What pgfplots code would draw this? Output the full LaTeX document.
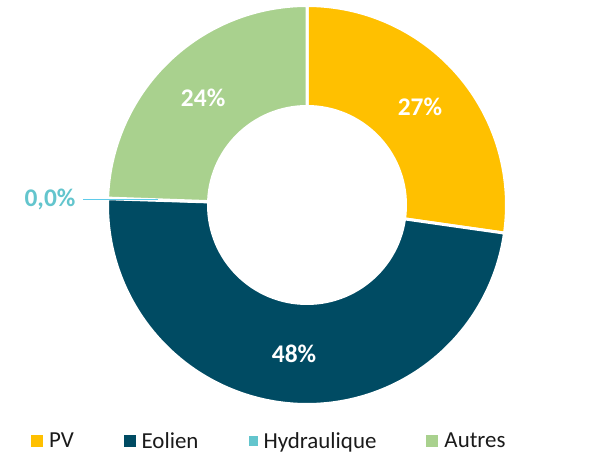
\documentclass[border=0pt]{standalone}
\usepackage{pgfplots}
\pgfplotsset{compat=1.18}
\usepackage{fontspec}
\setmainfont{Carlito}
\definecolor{pv}{HTML}{FFC000}
\definecolor{eol}{HTML}{004B63}
\definecolor{hyd}{HTML}{63C5CD}
\definecolor{aut}{HTML}{A9D18E}
\definecolor{lead}{HTML}{5FCBEA}
\definecolor{legtext}{HTML}{1A1A1A}
% values (percent)
\def\vPV{27.25}
\def\vEol{48.25}
\def\vHyd{0.05}
\def\vAut{24.45}
\pgfmathsetmacro\aA{90}
\pgfmathsetmacro\aB{90-3.6*\vPV}
\pgfmathsetmacro\aC{\aB-3.6*\vEol}
\pgfmathsetmacro\aD{\aC-3.6*\vHyd}
\pgfmathsetmacro\aE{\aD-3.6*\vAut}
\def\cx{307}
\def\cy{250}
\def\R{199.5}
\def\r{100}
\begin{document}
\begin{tikzpicture}
\begin{axis}[
  at={(0,0)}, anchor=south west,
  scale only axis, width=610bp, height=455bp,
  xmin=0, xmax=610, ymin=0, ymax=455,
  axis lines=none, clip=false,
  legend columns=4,
  legend style={draw=none, fill=none, inner sep=0pt, outer sep=0pt,
    at={(axis cs:31,14)}, anchor=west,
    font=\fontsize{23}{27}\selectfont, text=legtext,
    nodes={inner sep=1bp},
    /tikz/every even column/.append style={column sep=49bp},
    /tikz/every odd column/.append style={column sep=5bp}},
  legend cell align=left,
]
\addplot[fill=pv, draw=white, line width=3bp, domain=\aB:\aA, samples=90, variable=\t,
  legend image code/.code={\fill[pv] (0bp,-4.5bp) rectangle (9bp,4.5bp);}]
  ({\cx+\R*cos(\t)},{\cy+\R*sin(\t)}) -- (axis cs:\cx,\cy) -- cycle;
\addlegendentry{PV}
\addplot[fill=eol, draw=white, line width=3bp, domain=\aC:\aB, samples=140, variable=\t,
  legend image code/.code={\fill[eol] (0bp,-4.5bp) rectangle (9bp,4.5bp);}]
  ({\cx+\R*cos(\t)},{\cy+\R*sin(\t)}) -- (axis cs:\cx,\cy) -- cycle;
\addlegendentry{Eolien}
\addplot[fill=hyd, draw=none, domain=\aD:\aC, samples=2, variable=\t,
  legend image code/.code={\fill[hyd] (0bp,-4.5bp) rectangle (9bp,4.5bp);}]
  ({\cx+\R*cos(\t)},{\cy+\R*sin(\t)}) -- (axis cs:\cx,\cy) -- cycle;
\addlegendentry{Hydraulique}
\addplot[fill=aut, draw=white, line width=3bp, domain=\aE:\aD, samples=90, variable=\t,
  legend image code/.code={\fill[aut] (0bp,-4.5bp) rectangle (9bp,4.5bp);}]
  ({\cx+\R*cos(\t)},{\cy+\R*sin(\t)}) -- (axis cs:\cx,\cy) -- cycle;
\addlegendentry{Autres}
% hole
\fill[white] (axis cs:\cx,\cy) circle[radius=\r bp];
% leader line for Hydraulique
\draw[lead, line width=1.8bp] (axis cs:83,255.5) -- (axis cs:158,255.5);
% labels
\pgfmathsetmacro\mA{(\aA+\aB)/2}
\pgfmathsetmacro\mB{(\aB+\aC)/2}
\pgfmathsetmacro\mD{(\aD+\aE)/2}
\pgfmathsetmacro\rl{149.5}
\node[text=white, font=\fontsize{25.5}{30}\selectfont\bfseries] at (axis cs:{\cx+\rl*cos(\mA)},{\cy+\rl*sin(\mA)}) {27\%};
\node[text=white, font=\fontsize{25.5}{30}\selectfont\bfseries] at (axis cs:{\cx+\rl*cos(\mB)},{\cy+\rl*sin(\mB)}) {48\%};
\node[text=white, font=\fontsize{25.5}{30}\selectfont\bfseries] at (axis cs:{\cx+\rl*cos(\mD)},{\cy+\rl*sin(\mD)}) {24\%};
\node[text=hyd, font=\fontsize{25.5}{30}\selectfont\bfseries] at (axis cs:50,256) {0,0\%};
\end{axis}
\pgfresetboundingbox
\useasboundingbox (0,0) rectangle (610bp,455bp);
\end{tikzpicture}
\end{document}
